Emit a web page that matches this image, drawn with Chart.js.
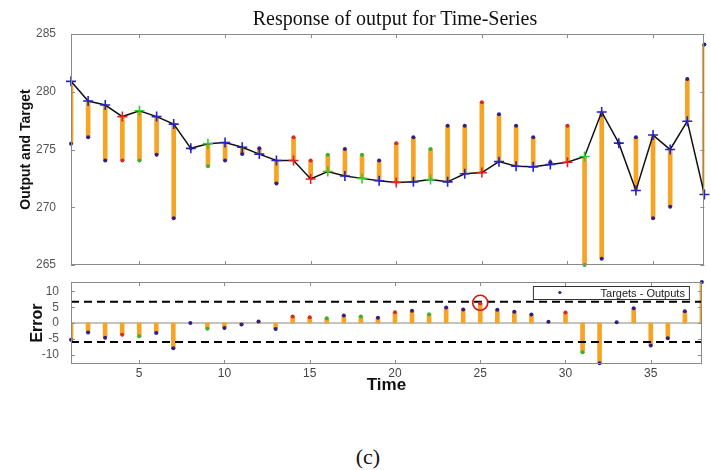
<!DOCTYPE html>
<html>
<head>
<meta charset="utf-8">
<script src="https://cdn.jsdelivr.net/npm/chart.js@4.4.0/dist/chart.umd.min.js"></script>
<style>
  body { margin: 0; background: #fff; }
  #wrap { position: relative; width: 711px; height: 470px; overflow: hidden; }
  #topChart { position: absolute; left: 0; top: 0; }
  #errChart { position: absolute; left: 0; top: 270px; }
  #title { position: absolute; left: 195px; width: 400px; top: 8px; text-align: center;
           font: 20px "Liberation Serif", "Times New Roman", serif; line-height: 20px; color: #111; }
  #caption { position: absolute; left: 268px; width: 200px; top: 446px; text-align: center;
             font: 22px "Liberation Serif", "Times New Roman", serif; line-height: 22px; color: #111; }
</style>
</head>
<body>
<div id="wrap">
  <canvas id="topChart" width="711" height="280"></canvas>
  <canvas id="errChart" width="711" height="130"></canvas>
  <div id="title">Response of output for Time-Series</div>
  <div id="caption">(c)</div>
</div>
<script>
// time steps
const timeSteps = [1,2,3,4,5,6,7,8,9,10,11,12,13,14,15,16,17,18,19,20,21,22,23,24,25,26,27,28,29,30,31,32,33,34,35,36,37,38];

// network outputs (black line with + markers)
const outputs = [280.9,279.2,278.85,277.85,278.35,277.85,277.2,275.1,275.5,275.6,275.2,274.6,274.05,274.05,272.45,273.1,272.7,272.5,272.3,272.15,
                 272.2,272.4,272.2,272.9,273.0,273.95,273.55,273.5,273.7,273.9,274.4,278.25,275.55,271.45,276.25,275.0,277.45,271.1];

// targets (dots at the end of the orange bars)
const targets = [275.5,276.05,274.05,274.05,274.05,274.55,269.05,275.1,273.55,274.05,274.6,275.1,272.05,276.05,274.05,274.55,275.05,274.55,274.05,275.55,
                 276.05,275.05,277.05,277.05,279.1,278.05,277.05,276.05,273.9,277.05,265.0,265.55,275.55,276.05,269.05,270.05,281.1,284.1];

// errors = targets - outputs
const errors = [-5.3,-3.0,-4.7,-3.7,-4.2,-3.2,-8.0,0.0,-1.8,-1.6,-0.5,0.5,-1.9,2.1,1.8,1.5,2.4,2.1,1.7,3.4,
                3.9,2.8,4.9,4.3,6.2,4.2,3.6,2.7,0.4,3.3,-9.3,-12.8,0.2,4.7,-7.1,-4.8,3.7,13.0];

// which subset each step belongs to
const subset = ['train','train','train','test','val','train','train','train','val','train','train','train','train','test','test','val','train','val','train','test',
                'train','val','train','train','test','train','train','train','train','test','val','train','train','train','train','train','train','train'];

const yTicksTop = [265, 270, 275, 280, 285];
const yTicksErr = [-10, -5, 0, 5, 10];
const xTicks = [5, 10, 15, 20, 25, 30, 35];
const errLimits = [6.7, -6.0];
const markedStep = 25;

const crossColor = { train: '#2424c8', val: '#2ccc2c', test: '#e02222' };
const dotColor = { train: '#2c2088', val: '#36b036', test: '#d42a2a' };
const barColor = '#f5a425';
const axisColor = '#8a8a8a';
const tickFont = { family: 'Liberation Sans, Arial, sans-serif', size: 12 };

const boxPlugin = {
    id: 'box',
    afterDatasetsDraw(chart, args, opts) {
        const { ctx, chartArea: a, scales } = chart;
        ctx.save();
        ctx.strokeStyle = axisColor;
        ctx.lineWidth = 1;
        ctx.strokeRect(Math.round(a.left) + 0.5, Math.round(a.top) + 0.5, Math.round(a.width) - 1, Math.round(a.height) - 1);
        ctx.beginPath();
        xTicks.forEach(v => {
            const px = Math.round(scales.x.getPixelForValue(v)) + 0.5;
            ctx.moveTo(px, a.top); ctx.lineTo(px, a.top + opts.len);
            ctx.moveTo(px, a.bottom); ctx.lineTo(px, a.bottom - opts.len);
        });
        opts.yTicks.forEach(v => {
            const py = Math.round(scales.y.getPixelForValue(v)) + 0.5;
            ctx.moveTo(a.left, py); ctx.lineTo(a.left + opts.len, py);
            ctx.moveTo(a.right, py); ctx.lineTo(a.right - opts.len, py);
        });
        ctx.stroke();
        ctx.restore();
    }
};

const legendPlugin = {
    id: 'errLegend',
    afterDraw(chart, args, opts) {
        if (!opts.show) return;
        const { ctx, chartArea: a } = chart;
        const w = 156, h = 13;
        const x0 = a.right - 13 - w, y0 = a.top + 4;
        ctx.save();
        ctx.fillStyle = '#fff';
        ctx.fillRect(x0, y0, w, h);
        ctx.strokeStyle = '#333';
        ctx.lineWidth = 1;
        ctx.strokeRect(x0 + 0.5, y0 + 0.5, w, h);
        ctx.fillStyle = dotColor.train;
        ctx.beginPath();
        ctx.arc(x0 + 27, y0 + h / 2, 1.6, 0, Math.PI * 2);
        ctx.fill();
        ctx.fillStyle = '#222';
        ctx.font = '11px Liberation Sans, Arial, sans-serif';
        ctx.textAlign = 'right';
        ctx.textBaseline = 'middle';
        ctx.fillText('Targets - Outputs', x0 + w - 4, y0 + h / 2 + 1);
        ctx.restore();
    }
};

function fixedX(show, title) {
    return {
        type: 'linear', min: 1, max: 38, offset: false,
        grid: { display: false, drawTicks: false }, border: { display: false },
        afterBuildTicks: s => { s.ticks = xTicks.map(v => ({ value: v })); },
        afterFit: s => { s.height = show ? 32 : 0; },
        ticks: { display: show, color: '#444', font: tickFont, padding: 2, maxRotation: 0 },
        title: { display: !!title, text: title, color: '#111', padding: { top: 0, bottom: 0 },
                 font: { family: 'Liberation Sans, Arial, sans-serif', size: 17, weight: 'bold' } }
    };
}

function fixedY(min, max, ticks, title, size, pad, tickPad) {
    return {
        type: 'linear', min: min, max: max,
        grid: { display: false }, border: { display: false },
        afterBuildTicks: s => { s.ticks = ticks.map(v => ({ value: v })); },
        afterFit: s => { s.width = 71; },
        ticks: { color: '#555', font: tickFont, padding: tickPad },
        title: { display: true, text: title, color: '#111', padding: { top: pad, bottom: 0 },
                 font: { family: 'Liberation Sans, Arial, sans-serif', size: size, weight: 'bold' } }
    };
}

// upper panel: outputs, targets and the gap between them
new Chart(document.getElementById('topChart'), {
    type: 'scatter',
    data: {
        datasets: [
            {
                type: 'scatter',
                data: timeSteps.map((t, i) => ({ x: t, y: targets[i] })),
                pointRadius: 2, pointHoverRadius: 2, pointBorderWidth: 0,
                pointBackgroundColor: subset.map(s => dotColor[s]),
                clip: false, order: 0
            },
            {
                type: 'line',
                data: timeSteps.map((t, i) => ({ x: t, y: outputs[i] })),
                borderColor: '#111', borderWidth: 1.5, tension: 0,
                pointStyle: 'cross', pointRadius: 5, pointBorderWidth: 1.6,
                pointBorderColor: subset.map(s => crossColor[s]),
                clip: false, order: 1
            },
            {
                type: 'bar',
                data: timeSteps.map((t, i) => ({ x: t, y: [outputs[i], targets[i]] })),
                backgroundColor: barColor, barThickness: 4, order: 2
            }
        ]
    },
    options: {
        responsive: false, animation: false,
        layout: { padding: { top: 34, right: 6, bottom: 15, left: 0 } },
        plugins: { legend: { display: false }, tooltip: { enabled: false },
                   box: { len: 4, yTicks: yTicksTop }, errLegend: { show: false } },
        scales: {
            x: fixedX(false, ''),
            y: fixedY(265, 285, yTicksTop, 'Output and Target', 14, 18, 7)
        }
    },
    plugins: [boxPlugin, legendPlugin]
});

// lower panel: error with limits
new Chart(document.getElementById('errChart'), {
    type: 'scatter',
    data: {
        datasets: [
            {
                type: 'scatter',
                data: [{ x: markedStep, y: errors[markedStep - 1] + 0.2 }],
                pointRadius: 7.5, pointBorderWidth: 1.6, pointBorderColor: '#e01010',
                pointBackgroundColor: 'rgba(0,0,0,0)', clip: false, order: 0
            },
            {
                type: 'scatter',
                data: timeSteps.map((t, i) => ({ x: t, y: errors[i] })),
                pointRadius: 2, pointBorderWidth: 0,
                pointBackgroundColor: subset.map(s => dotColor[s]),
                clip: false, order: 1
            },
            {
                type: 'line',
                data: [{ x: 1, y: errLimits[0] }, { x: 38, y: errLimits[0] }],
                borderColor: '#000', borderWidth: 2, borderDash: [8, 5], pointRadius: 0, order: 2
            },
            {
                type: 'line',
                data: [{ x: 1, y: errLimits[1] }, { x: 38, y: errLimits[1] }],
                borderColor: '#000', borderWidth: 2, borderDash: [8, 5], pointRadius: 0, order: 2
            },
            {
                type: 'bar',
                data: timeSteps.map((t, i) => ({ x: t, y: [0, errors[i]] })),
                backgroundColor: barColor, barThickness: 4, order: 3
            },
            {
                type: 'line',
                data: [{ x: 1, y: 0 }, { x: 38, y: 0 }],
                borderColor: '#888', borderWidth: 1, pointRadius: 0, order: 4
            }
        ]
    },
    options: {
        responsive: false, animation: false,
        layout: { padding: { top: 12, right: 6, bottom: 4, left: 0 } },
        plugins: { legend: { display: false }, tooltip: { enabled: false },
                   box: { len: 4, yTicks: yTicksErr }, errLegend: { show: true } },
        scales: {
            x: fixedX(true, 'Time'),
            y: fixedY(-13, 13, yTicksErr, 'Error', 16, 28, 4)
        }
    },
    plugins: [boxPlugin, legendPlugin]
});
</script>
</body>
</html>
